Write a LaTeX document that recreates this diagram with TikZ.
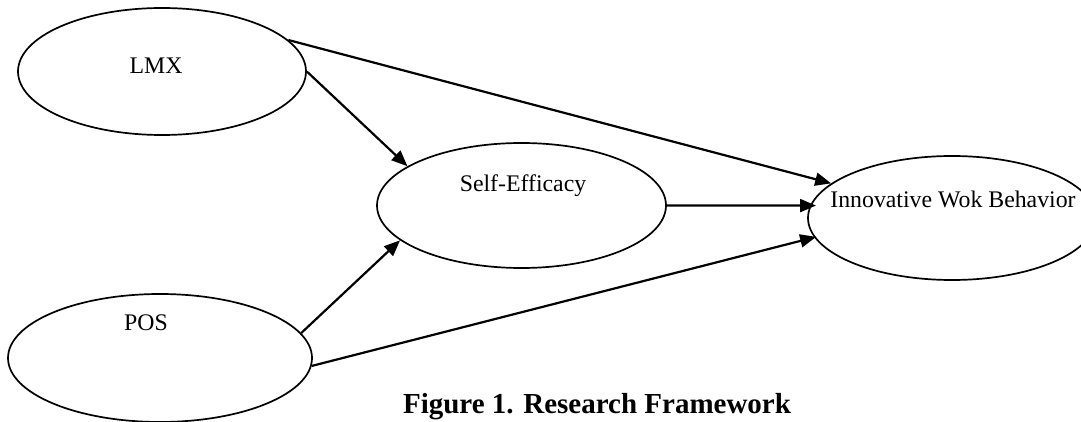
\documentclass[tikz,border=0pt]{standalone}
\usepackage{fontspec}
\setmainfont{Liberation Serif}
\usetikzlibrary{shapes.geometric, arrows.meta}
\tikzstyle{construct} = [ellipse, draw=black, line width=0.85pt, inner sep=0pt]
\tikzstyle{constructtext} = [anchor=base, inner sep=0pt, font=\fontsize{11.9}{14}\selectfont]
\tikzstyle{arrow} = [line width=1.1pt, -{Triangle[length=8pt, width=6.5pt]}]

\begin{document}
\begin{tikzpicture}[x=0.5pt, y=-0.5pt]
\useasboundingbox (0,0) rectangle (1081,422);

\node (lmx) [construct, minimum width=144pt, minimum height=63.5pt] at (162,71.5) {};
\node (se) [construct, minimum width=144.5pt, minimum height=62.5pt] at (521.5,205.5) {};
\node (iwb) [construct, minimum width=144pt, minimum height=62pt] at (952,218) {};
\node (pos) [construct, minimum width=152pt, minimum height=64pt] at (160,358) {};

\node (lmxtext) [constructtext] at (156,74) {LMX};
\node (setext) [constructtext] at (523,192) {Self-Efficacy};
\node (iwbtext) [constructtext] at (953,208) {Innovative Wok Behavior};
\node (postext) [constructtext] at (146,330) {POS};

\node (caption) [anchor=base, inner sep=0pt, font=\fontsize{14.5}{17}\selectfont\bfseries] at (597,413) {Figure 1. Research Framework};

\draw [arrow] (lmx.14) -- (iwb.164);
\draw [arrow] (lmx.east) -- (se.161);
\draw [arrow, shorten >=-3pt] (se.east) -- (iwb.175);
\draw [arrow] (pos.10) -- (se.196);
\draw [arrow, shorten >=-1pt] (pos.-3) -- (iwb.188);

\end{tikzpicture}
\end{document}
